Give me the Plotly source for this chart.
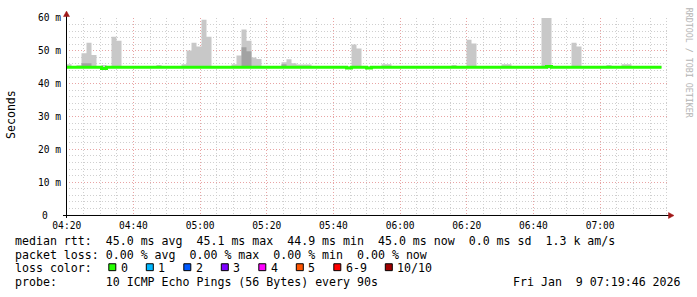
import plotly.graph_objects as go
import pandas as pd

# ---------------- data ----------------
STEP_START = "2026-01-09 04:19:55"   # start of first 90 s step
STEP_SECONDS = 90
RANGE_START = "2026-01-09 04:19:46"
RANGE_END = "2026-01-09 07:20:40"

# median rtt (ms) per 90 s step
median_ms = [
    45.0, 45.0, 45.0, 45.0, 45.0, 45.0, 45.0, 44.6, 45.0, 45.0,
    45.0, 45.0, 45.0, 45.0, 45.0, 45.0, 45.0, 45.0, 45.0, 45.0,
    45.0, 45.0, 45.0, 45.0, 45.0, 45.0, 45.0, 45.0, 45.0, 45.0,
    45.0, 45.0, 45.0, 45.0, 45.0, 45.0, 45.0, 45.0, 45.0, 45.0,
    45.0, 45.0, 45.0, 45.0, 45.0, 45.0, 45.0, 45.0, 45.0, 45.0,
    45.0, 45.0, 45.0, 45.0, 45.0, 45.0, 44.8, 45.0, 45.0, 45.0,
    44.8, 45.0, 45.0, 45.0, 45.0, 45.0, 45.0, 45.0, 45.0, 45.0,
    45.0, 45.0, 45.0, 45.0, 45.0, 45.0, 45.0, 45.0, 45.0, 45.0,
    45.0, 45.0, 45.0, 45.0, 45.0, 45.0, 45.0, 45.0, 45.0, 45.0,
    45.0, 45.0, 45.0, 45.0, 45.0, 45.0, 45.2, 45.0, 45.0, 45.0,
    45.0, 45.0, 45.0, 45.0, 45.0, 45.0, 45.0, 45.0, 45.0, 45.0,
    45.0, 45.0, 45.0, 45.0, 45.0, 45.0, 45.0, 45.0, 45.0,
]

# smoke (min .. max of the pings) per step, ms
smoke_lo_ms = [
    44.8, 44.8, 44.8, 44.8, 44.8, 44.8, 44.8, 44.8, 44.8, 44.8,
    44.8, 44.8, 44.8, 44.8, 44.8, 44.8, 44.8, 44.8, 44.8, 44.8,
    44.8, 44.8, 44.8, 44.8, 44.8, 44.8, 44.8, 44.8, 44.8, 44.8,
    44.8, 44.8, 44.8, 44.8, 44.8, 44.8, 44.8, 44.8, 44.8, 44.8,
    44.8, 44.8, 44.8, 44.8, 44.8, 44.8, 44.8, 44.8, 44.8, 44.8,
    44.8, 44.8, 44.8, 44.8, 44.8, 44.8, 44.8, 44.8, 44.8, 44.8,
    44.8, 44.8, 44.8, 44.8, 44.8, 44.8, 44.8, 44.8, 44.8, 44.8,
    44.8, 44.8, 44.8, 44.8, 44.8, 44.8, 44.8, 44.8, 44.8, 44.8,
    44.8, 44.8, 44.8, 44.8, 44.8, 44.8, 44.8, 44.8, 44.8, 44.8,
    44.8, 44.8, 44.8, 44.8, 44.8, 44.8, 44.6, 44.8, 44.8, 44.8,
    44.8, 44.8, 44.8, 44.8, 44.8, 44.8, 44.8, 44.8, 44.8, 44.8,
    44.8, 44.8, 44.8, 44.8, 44.8, 44.8, 44.8, 44.8, 44.8,
]
smoke_hi_ms = [
    45.9, 45.3, 45.6, 49.3, 52.5, 48.7, 45.3, 45.7, 45.3, 54.3,
    53.1, 45.3, 45.3, 45.3, 45.3, 45.3, 45.3, 45.3, 45.7, 45.3,
    45.3, 45.3, 45.3, 45.9, 50.1, 52.5, 51.3, 59.5, 54.3, 45.3,
    45.3, 45.3, 45.3, 45.9, 48.6, 56.5, 53.1, 48.0, 47.5, 45.3,
    45.3, 45.3, 45.3, 46.5, 47.4, 46.2, 45.8, 45.8, 45.8, 45.3,
    45.3, 45.3, 45.3, 45.3, 45.3, 45.3, 45.3, 51.9, 50.7, 45.3,
    45.3, 45.3, 45.3, 45.9, 45.9, 45.3, 45.3, 45.3, 45.3, 45.3,
    45.3, 45.3, 45.3, 45.3, 45.3, 45.3, 45.3, 45.7, 45.3, 45.3,
    53.4, 52.2, 45.3, 45.3, 45.3, 45.3, 45.3, 45.9, 45.9, 45.3,
    45.3, 45.3, 45.3, 45.3, 45.3, 61.0, 61.0, 45.3, 45.3, 45.3,
    45.3, 52.5, 51.3, 45.3, 45.3, 45.3, 45.3, 45.3, 45.7, 45.3,
    45.3, 45.9, 45.9, 45.3, 45.3, 45.3, 45.3, 45.3, 45.3,
]
# denser (darker) part of the smoke, only where visible
dark_steps = [3, 4, 35, 36, 43]
dark_lo_ms = [45.3, 45.3, 45.3, 45.3, 45.3]
dark_hi_ms = [46.2, 46.2, 51.1, 49.9, 45.9]

x_tick_times = ["2026-01-09 04:20", "2026-01-09 04:40", "2026-01-09 05:00",
                "2026-01-09 05:20", "2026-01-09 05:40", "2026-01-09 06:00",
                "2026-01-09 06:20", "2026-01-09 06:40", "2026-01-09 07:00"]
x_tick_labels = ["04:20", "04:40", "05:00", "05:20", "05:40", "06:00",
                 "06:20", "06:40", "07:00"]
y_tick_vals = [0, 10, 20, 30, 40, 50, 60]
y_tick_labels = ["0", "10 m", "20 m", "30 m", "40 m", "50 m", "60 m"]

loss_labels = ["0", "1", "2", "3", "4", "5", "6-9", "10/10"]
loss_colors = ["#26ff00", "#00b8ff", "#0059ff", "#7e00ff",
               "#ff00ff", "#ff5500", "#ff0000", "#a10000"]

legend_rtt = "median rtt:  45.0 ms avg  45.1 ms max  44.9 ms min  45.0 ms now  0.0 ms sd  1.3 k am/s"
legend_loss = "packet loss: 0.00 % avg  0.00 % max  0.00 % min  0.00 % now"
legend_color = "loss color:"
legend_probe = "probe:       10 ICMP Echo Pings (56 Bytes) every 90s"
legend_date = "Fri Jan  9 07:19:46 2026"
watermark = "RRDTOOL / TOBI OETIKER"
y_title = "Seconds"

# ---------------- layout geometry ----------------
W, H = 697, 297
ML, MR, MT, MB = 66, 28, 15, 82
PW, PH = W - ML - MR, H - MT - MB
MONO = "DejaVu Sans Mono"


def px(xp):
    return (xp - ML) / PW


def py(yp):
    return (MT + PH - yp) / PH


def nb(s):
    return s.replace(" ", "\u00a0")


n = len(median_ms)
step_start = pd.date_range(STEP_START, periods=n, freq=f"{STEP_SECONDS}s")
edge_x = list(step_start) + [step_start[-1] + pd.Timedelta(seconds=STEP_SECONDS)]


def edges(vals):
    return list(vals) + [vals[-1]]


# dark smoke as full-length series (zero height where no dense smoke)
dark_lo_full = list(median_ms)
dark_hi_full = list(median_ms)
for s, lo, hi in zip(dark_steps, dark_lo_ms, dark_hi_ms):
    dark_lo_full[s] = lo
    dark_hi_full[s] = hi

fig = go.Figure()
fig.add_trace(go.Scatter(x=edge_x, y=edges(smoke_lo_ms), mode="lines",
                         line=dict(width=0, shape="hv"), hoverinfo="skip"))
fig.add_trace(go.Scatter(x=edge_x, y=edges(smoke_hi_ms), mode="lines",
                         line=dict(width=0, shape="hv"), fill="tonexty",
                         fillcolor="#c8c8c8", hoverinfo="skip"))
fig.add_trace(go.Scatter(x=edge_x, y=edges(dark_lo_full), mode="lines",
                         line=dict(width=0, shape="hv"), hoverinfo="skip"))
fig.add_trace(go.Scatter(x=edge_x, y=edges(dark_hi_full), mode="lines",
                         line=dict(width=0, shape="hv"), fill="tonexty",
                         fillcolor="#a2a2a2", hoverinfo="skip"))
fig.add_trace(go.Scatter(x=edge_x, y=edges(median_ms), mode="lines",
                         line=dict(color=loss_colors[0], width=3, shape="hv"),
                         hoverinfo="skip"))

shapes = []
# axes
shapes.append(dict(type="line", xref="paper", yref="paper",
                   x0=px(63), x1=px(669), y0=py(215.5), y1=py(215.5),
                   line=dict(color="#000000", width=1), layer="above"))
shapes.append(dict(type="line", xref="paper", yref="paper",
                   x0=px(66.5), x1=px(66.5), y0=py(218), y1=py(13),
                   line=dict(color="#000000", width=1), layer="above"))
# arrows
shapes.append(dict(type="path", xref="paper", yref="paper",
                   path=f"M {px(668.5)} {py(212.5)} L {px(674)} {py(215.5)} L {px(668.5)} {py(218.5)} Z",
                   fillcolor="#a01818", line=dict(color="#a01818", width=0.5), layer="above"))
shapes.append(dict(type="path", xref="paper", yref="paper",
                   path=f"M {px(63.5)} {py(13.5)} L {px(66.5)} {py(8)} L {px(69.5)} {py(13.5)} Z",
                   fillcolor="#a01818", line=dict(color="#a01818", width=0.5), layer="above"))

annotations = []


def text(x, y, s, size=11.6, color="#000000", xanchor="left", angle=0):
    annotations.append(dict(xref="paper", yref="paper", x=px(x), y=py(y),
                            text=nb(s), showarrow=False, xanchor=xanchor,
                            yanchor="middle", textangle=angle,
                            borderpad=0, borderwidth=0,
                            font=dict(family=MONO, size=size, color=color)))


LY = [241.3, 255.3, 269.3, 283.3]
text(15.3, LY[0], legend_rtt)
text(15.3, LY[1], legend_loss)
text(15.3, LY[2], legend_color)
text(15.3, LY[3], legend_probe)
text(512.5, LY[3], legend_date)
text(10.5, 113, y_title, xanchor="center", angle=-90)
text(688.5, 60, watermark, size=8.3, color="#b4b4b4", xanchor="center", angle=90)

# the "0" tick label sits left of the others (aligned as a number)
annotations.append(dict(xref="paper", yref="y", x=px(47.5), y=y_tick_vals[0],
                        text=y_tick_labels[0], showarrow=False, xanchor="right",
                        yanchor="middle", borderpad=0, borderwidth=0,
                        font=dict(family=MONO, size=9.6, color="#000000")))

square_left = [108.3, 145.8, 183.3, 220.8, 258.3, 295.8, 333.3, 384.8]
for lab, col, sx in zip(loss_labels, loss_colors, square_left):
    shapes.append(dict(type="rect", xref="paper", yref="paper",
                       x0=px(sx + 0.5), x1=px(sx + 7.5), y0=py(264.5), y1=py(271.5),
                       fillcolor=col, line=dict(color="#000000", width=1), layer="above"))
    text(sx + 12.5, LY[2], lab)

grid_major = "#e8a4a4"
grid_minor = "#cfcfcf"
fig.update_layout(
    width=W, height=H, margin=dict(l=ML, r=MR, t=MT, b=MB, pad=0),
    paper_bgcolor="#ffffff", plot_bgcolor="#ffffff",
    showlegend=False,
    shapes=shapes, annotations=annotations,
    xaxis=dict(type="date", range=[RANGE_START, RANGE_END],
               tickmode="array", tickvals=x_tick_times, ticktext=x_tick_labels,
               showgrid=True, gridcolor=grid_major, griddash="1px,2px", gridwidth=1,
               minor=dict(dtick=5 * 60 * 1000, tick0="2026-01-09 04:20:00",
                          showgrid=True, gridcolor=grid_minor, griddash="1px,2px", gridwidth=1),
               showline=False, zeroline=False, ticks="", ticklabelstandoff=3,
               tickfont=dict(family=MONO, size=9.6, color="#000000"), fixedrange=True),
    yaxis=dict(range=[0, 60], tickmode="array", tickvals=y_tick_vals[1:],
               ticktext=[nb(t) for t in y_tick_labels[1:]],
               showgrid=True, gridcolor=grid_major, griddash="1px,2px", gridwidth=1,
               minor=dict(dtick=2, tick0=0, showgrid=True, gridcolor=grid_minor,
                          griddash="1px,2px", gridwidth=1),
               showline=False, zeroline=False, ticks="", ticklabelstandoff=4,
               tickfont=dict(family=MONO, size=9.6, color="#000000"), fixedrange=True),
)

fig.write_html("out.html")
